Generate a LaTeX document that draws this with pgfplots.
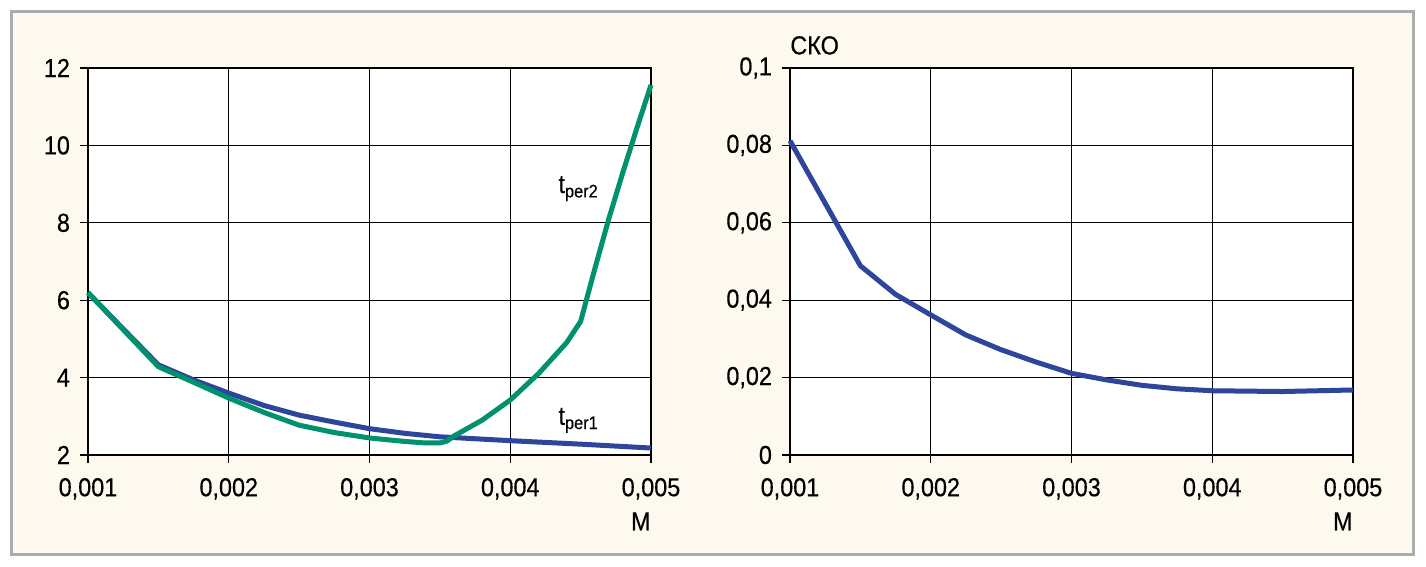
\documentclass[border=0pt]{standalone}
\usepackage{pgfplots}
\pgfplotsset{compat=1.18}
\usepackage{fontspec}
\setmainfont{Liberation Sans}[FakeStretch=0.9, FakeBold=0.4]

\definecolor{panel}{RGB}{253,249,238}
\definecolor{frame}{RGB}{172,172,172}
\definecolor{tgreen}{RGB}{0,146,108}
\definecolor{tblue}{RGB}{45,70,155}

% time to transition vs. M
\pgfplotstableread{
x        y
0.001    6.19
0.0015   4.33
0.00175  3.94
0.002    3.60
0.00225  3.28
0.0025   3.03
0.00275  2.85
0.003    2.68
0.00325  2.56
0.0035   2.47
0.00375  2.42
0.004    2.37
0.0045   2.28
0.005    2.18
}\tperone

\pgfplotstableread{
x        y
0.001    6.20
0.0015   4.28
0.00175  3.88
0.002    3.47
0.00225  3.10
0.0025   2.77
0.00275  2.58
0.003    2.44
0.00325  2.35
0.0034   2.31
0.0035   2.31
0.00355  2.36
0.0036   2.49
0.0038   2.90
0.004    3.42
0.0042   4.10
0.0044   4.90
0.0045   5.45
0.0046   6.80
0.0047   8.10
0.0048   9.30
0.0049   10.45
0.005    11.56
}\tpertwo

% RMS error vs. M
\pgfplotstableread{
x        y
0.001    0.0812
0.0015   0.0489
0.00175  0.0415
0.002    0.0362
0.00225  0.0310
0.0025   0.0272
0.00275  0.0240
0.003    0.0211
0.00325  0.0194
0.0035   0.0180
0.00375  0.0171
0.004    0.0166
0.0045   0.0164
0.005    0.0168
}\sko

\pgfplotsset{
  panelaxis/.style={
    scale only axis,
    width=281.5pt, height=193.5pt,
    anchor=south west,
    xmin=0.001, xmax=0.005,
    xtick={0.001,0.002,0.003,0.004,0.005},
    xticklabels={{0,001},{0,002},{0,003},{0,004},{0,005}},
    scaled ticks=false,
    tick align=outside,
    xtick pos=bottom, ytick pos=left,
    major tick length=4pt,
    every tick/.style={black, line width=0.6pt},
    grid=major,
    major grid style={black, line width=0.6pt},
    axis line style={black, line width=1.2pt},
    axis background/.style={fill=white},
    tick label style={font=\fontsize{13}{15}\selectfont},
    xticklabel style={yshift=-4pt},
    yticklabel style={xshift=-1.5pt},
    /pgf/number format/assume math mode=true,
    clip=false,
  },
}

\begin{document}
\begin{tikzpicture}
\fill[white] (0,0) rectangle (713pt,283.5pt);
\draw[frame, line width=1.5pt, fill=panel] (5.75pt,6.25pt) rectangle (706.75pt,277.75pt);

\begin{axis}[panelaxis, at={(44pt,56pt)},
  ymin=2, ymax=12, ytick={2,4,6,8,10,12}]
  \addplot[tblue, line width=2.5pt, line join=round] table[x=x,y=y] {\tperone};
  \addplot[tgreen, line width=2.5pt, line join=round] table[x=x,y=y] {\tpertwo};
  \node[anchor=base west, inner sep=0, font=\fontsize{13}{15}\selectfont]
    at (axis cs:0.00434,8.77) {t\textsubscript{per2}};
  \node[anchor=base west, inner sep=0, font=\fontsize{13}{15}\selectfont]
    at (axis cs:0.00434,2.78) {t\textsubscript{per1}};
  \node[anchor=north east, inner sep=0, yshift=-28.5pt, font=\fontsize{13}{15}\selectfont]
    at (rel axis cs:1,0) {M};
\end{axis}

\begin{axis}[panelaxis, at={(395pt,56pt)},
  ymin=0, ymax=0.1, ytick={0,0.02,0.04,0.06,0.08,0.1},
  yticklabels={0,{0,02},{0,04},{0,06},{0,08},{0,1}}]
  \addplot[tblue, line width=2.5pt, line join=round] table[x=x,y=y] {\sko};
  \node[anchor=south west, inner sep=0, yshift=6.5pt, font=\fontsize{13}{15}\selectfont]
    at (rel axis cs:0,1) {СКО};
  \node[anchor=north east, inner sep=0, yshift=-28.5pt, font=\fontsize{13}{15}\selectfont]
    at (rel axis cs:1,0) {M};
\end{axis}

\pgfresetboundingbox
\useasboundingbox (0,0) rectangle (713pt,283.5pt);
\end{tikzpicture}
\end{document}
